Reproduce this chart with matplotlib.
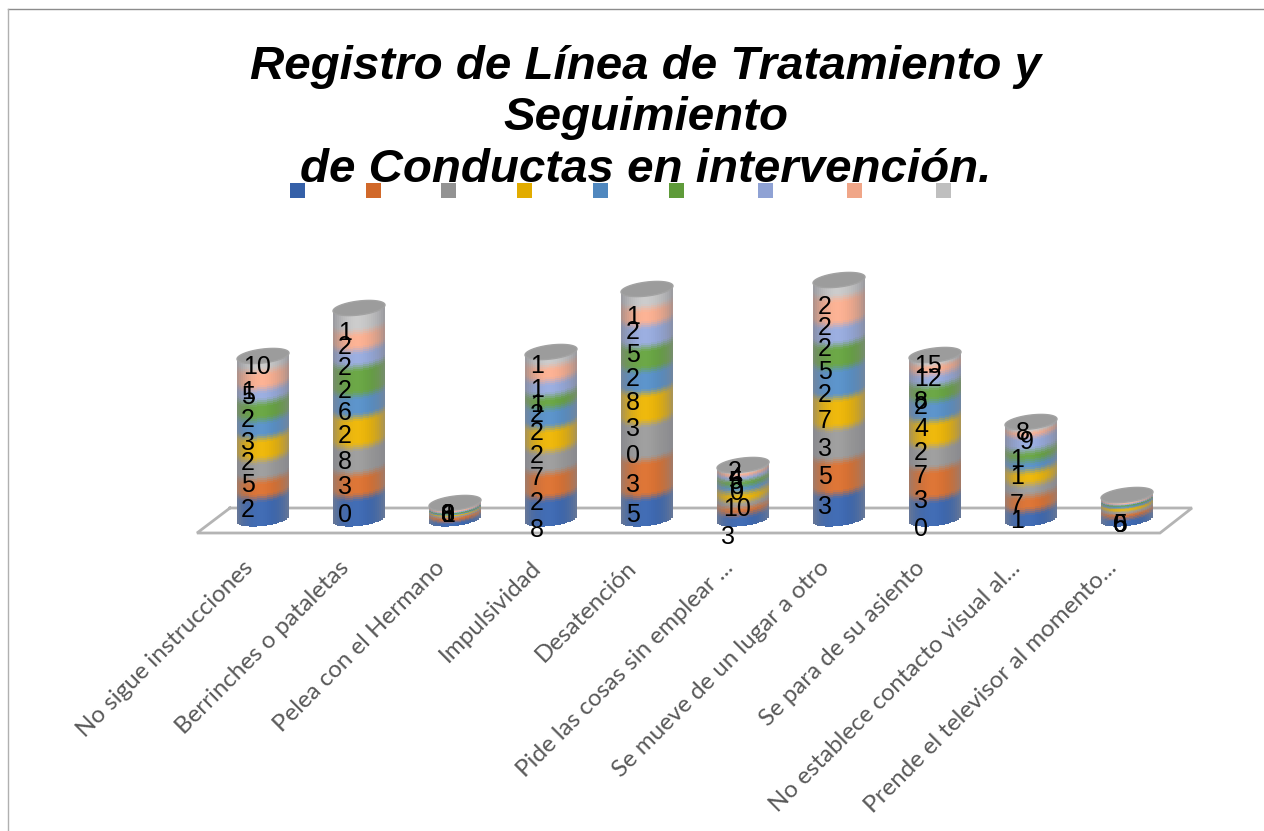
#Imports
import numpy as np
import matplotlib
matplotlib.use("Agg")
import matplotlib.pyplot as plt
from matplotlib.patches import Rectangle
from matplotlib.colors import to_rgb
from matplotlib.transforms import ScaledTranslation

#Chart text
title_lines = ["Registro de Línea de Tratamiento y", "Seguimiento", "de Conductas en intervención."]
categories = ["No sigue instrucciones", "Berrinches o pataletas", "Pelea con el Hermano",
              "Impulsividad", "Desatención", "Pide las cosas sin emplear ...",
              "Se mueve de un lugar a otro", "Se para de su asiento",
              "No establece contacto visual al...", "Prende el televisor al momento..."]

#Stack heights, one list per (unnamed) series
s1 = [28, 29, 5, 28, 29, 12, 32, 27, 15, 9]
s2 = [18, 23, 4, 25, 37, 7, 33, 30, 15, 3]
s3 = [20, 27, 1, 22, 37, 5, 33, 23, 12, 3]
s4 = [22, 30, 1, 23, 30, 10, 30, 25, 13, 3]
s5 = [18, 22, 1, 20, 23, 6, 30, 20, 10, 2]
s6 = [18, 28, 1, 12, 23, 6, 23, 15, 10, 1]
s7 = [13, 17, 1, 15, 22, 4, 20, 12, 15, 1]
s8 = [18, 18, 1, 15, 17, 3, 27, 10, 5, 1]
s9 = [8, 17, 1, 7, 12, 1, 11, 2, 2, 1]
series = [s1, s2, s3, s4, s5, s6, s7, s8, s9]
colors = ["#3560a8", "#d1692a", "#939393", "#e2ac00", "#5088bf", "#5f9b3a", "#8fa2d4", "#f0a688", "#bfbfbf"]
legend_x = [290, 366, 441, 517, 593, 669, 758, 847, 936]

#Data labels as they appear (wrapped and overlapping), with pixel positions
label_text = ["2", "5", "2", "3", "2", "1", "5", "10",
              "0", "3", "8", "2", "6", "2", "2", "2", "1",
              "0", "3", "8", "1", "6",
              "8", "2", "7", "2", "2", "2", "1", "1", "1",
              "5", "3", "0", "3", "8", "2", "5", "2", "1",
              "3", "10", "0", "6", "5", "4", "2",
              "3", "5", "3", "7", "2", "5", "2", "2", "2",
              "0", "3", "7", "2", "4", "2", "8", "12", "15",
              "1", "7", "1", "1", "9", "8",
              "5", "6", "0"]
label_px = [248, 248, 248, 248, 248, 248, 248, 257,
            345, 345, 345, 345, 345, 345, 345, 345, 345,
            448, 448, 448, 448, 448,
            537, 537, 537, 537, 537, 537, 537, 537, 537,
            633, 633, 633, 633, 633, 633, 633, 633, 633,
            728, 737, 737, 737, 735, 735, 735,
            825, 825, 825, 825, 825, 825, 825, 825, 825,
            921, 921, 921, 921, 921, 921, 921, 928, 928,
            1017, 1017, 1017, 1017, 1027, 1023,
            1120, 1120, 1120]
label_py = [510, 485, 463, 443, 420, 392, 397, 367,
            515, 487, 462, 436, 413, 391, 368, 347, 333,
            515, 515, 515, 515, 515,
            530, 503, 478, 456, 433, 415, 405, 390, 366,
            515, 485, 456, 429, 403, 379, 355, 332, 317,
            537, 509, 493, 487, 482, 478, 472,
            507, 477, 449, 421, 395, 372, 349, 328, 307,
            529, 501, 476, 453, 429, 407, 402, 379, 366,
            521, 505, 477, 460, 442, 433,
            525, 525, 525]

W, H = 1264, 831
X0, STEP, BASE, AX_BOTTOM = 263, 96, 519, 548
HALF, ELL, TILT = 26, 7, 3
N_STRIPS = 26
BLEND = 4

def dx(px):
    return (np.asarray(px, dtype=float) - X0) / STEP

def dy(py):
    return BASE - np.asarray(py, dtype=float)

def shade(col, u):
    #u runs from -1 to 1 across the cylinder: grey at the edges, bright near the middle
    c = np.array(to_rgb(col))
    edge = abs(u) ** 2.5
    c = c * (1 - 0.65 * edge) + np.array([0.52, 0.52, 0.55]) * 0.65 * edge
    glow = np.exp(-((u + 0.1) / 0.5) ** 2) * 0.05
    return np.clip(c + glow, 0, 1)

fig = plt.figure(figsize=(W / 100, H / 100), dpi=100)
ax = fig.add_axes([0, (H - AX_BOTTOM) / H, 1, AX_BOTTOM / H])
ax.set_xlim(dx(0), dx(W))
ax.set_ylim(dy(AX_BOTTOM), dy(0))
for sp in ax.spines.values():
    sp.set_visible(False)
ax.tick_params(left=False, labelleft=False, bottom=False, pad=3)
ax.set_xticks(range(len(categories)))
ax.set_xticklabels(categories, rotation=45, ha="right", va="top", rotation_mode="anchor",
                   fontsize=17.4, family="Lato", color="#595959")
#Long labels end a bit left of their cylinder
shift = ScaledTranslation(-21 / 100, 0, fig.dpi_scale_trans)
for lab in ax.get_xticklabels():
    lab.set_transform(lab.get_transform() + shift)

#Floor of the 3D plot
ax.plot(dx([230, 197, 1160, 1192, 230]), dy([508, 533, 533, 508, 508]),
        color="#b4b4b4", lw=2, zorder=1, solid_joinstyle="miter")

#Cylinders, built from thin vertical bars so the shading and the curved bands work
vals = np.array(series, dtype=float)
strip_u = (np.arange(N_STRIPS) + 0.5) / N_STRIPS * 2 - 1
last = len(series) - 1
for i in range(len(categories)):
    xs, hs, bs, cs = [], [], [], []
    cum = np.concatenate([[0], np.cumsum(vals[:, i])])
    for u in strip_u:
        x = i + u * HALF / STEP
        off = -ELL * np.sqrt(1 - u ** 2) + TILT * u
        for k in range(len(series)):
            lo, hi = cum[k], cum[k + 1]
            d = min(BLEND, (hi - lo) / 2)
            #no blend below the first band or above the last one
            d_lo = 0 if k == 0 else d
            d_hi = 0 if k == last else d
            xs.append(x); bs.append(lo + d_lo + off); hs.append(hi - lo - d_lo - d_hi)
            cs.append(shade(colors[k], u))
            if k < last:
                d2 = min(BLEND, vals[k + 1, i] / 2)
                edges = np.linspace(hi - d, hi + d2, 5)
                for m in range(4):
                    t = (m + 0.5) / 4
                    xs.append(x); bs.append(edges[m] + off); hs.append(edges[m + 1] - edges[m])
                    cs.append(shade(colors[k], u) * (1 - t) + shade(colors[k + 1], u) * t)
    ax.bar(xs, np.array(hs) + 0.3, bottom=bs, width=2.2 / STEP, color=cs, linewidth=0,
           antialiased=False, zorder=2)
    #Top cap
    t = np.linspace(0, 2 * np.pi, 80)
    ax.fill(i + np.cos(t) * HALF / STEP, cum[-1] + TILT * np.cos(t) + ELL * np.sin(t),
            color="#9c9c9c", ec="#a2a2a2", lw=1, zorder=3)

#Data labels
for txt, px, py in zip(label_text, label_px, label_py):
    ax.text(dx(px), dy(py), txt, ha="center", va="center", fontsize=18,
            family="Liberation Sans", color="black", zorder=5)

#Legend keys, they have no text in the reference
for lx, col in zip(legend_x, colors):
    fig.add_artist(Rectangle((lx / W, 1 - 198 / H), 15 / W, 15 / H, transform=fig.transFigure,
                             fc=col, ec="none"))

#Title
for line, py in zip(title_lines, [79, 130, 182]):
    fig.text(646 / W, 1 - py / H, line, ha="center", va="baseline", fontsize=34.2,
             family="Liberation Sans", weight="bold", style="italic", color="black", zorder=6)

#Chart frame
fig.add_artist(plt.Line2D([8 / W, 1], [1 - 9 / H, 1 - 9 / H], color="#8c8c8c", lw=1))
fig.add_artist(plt.Line2D([8 / W, 8 / W], [0, 1 - 9 / H], color="#b0b0b0", lw=1))

fig.savefig("out.png", dpi=100)
